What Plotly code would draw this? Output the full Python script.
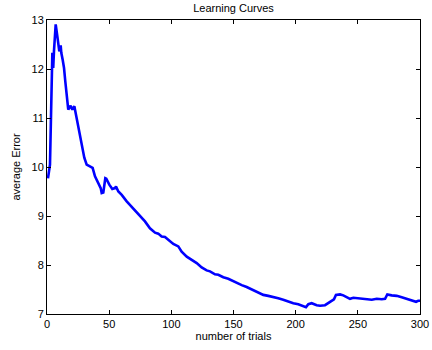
import plotly.graph_objects as go

trials = [0.8, 2.4, 4.3, 5.0, 5.6, 7.0, 8.3, 9.1, 9.9, 11.0,
          11.5, 12.6, 13.7, 14.7, 17.1, 19.0, 20.4, 22.0, 22.8, 24.4,
          26.0, 27.9, 30.0, 31.9, 34.6, 36.7, 38.6, 41.3, 43.2, 44.0,
          45.3, 46.9, 47.7, 50.1, 52.5, 54.7, 55.5, 57.4, 60.1, 64.1,
          68.1, 70.8, 74.8, 78.8, 82.8, 86.9, 89.5, 92.2, 94.9, 97.6,
          101.6, 105.6, 108.3, 112.4, 116.4, 120.4, 124.4, 128.4, 131.1, 135.1,
          137.8, 141.8, 145.8, 152.6, 156.6, 160.6, 165.9, 170, 174, 178,
          182, 186, 190, 194.1, 198.1, 202.1, 206.1, 208.3, 210.2, 212.9,
          216.9, 219.6, 223.6, 226.3, 229, 230.8, 232.4, 235.7, 238.3, 241,
          243.7, 246.4, 250.4, 254.4, 258.4, 261.2, 265.2, 269.2, 271.9, 273.7,
          277.2, 281.3, 285.3, 289.3, 293.3, 296.8, 298.6, 300]

avg_error = [9.77, 10.05, 12.33, 12.02, 12.36, 12.91, 12.67, 12.5, 12.36, 12.48,
             12.33, 12.19, 12.02, 11.75, 11.17, 11.25, 11.17, 11.24, 11.14, 10.90,
             10.69, 10.45, 10.19, 10.05, 10.01, 9.98, 9.81, 9.67, 9.57, 9.47,
             9.48, 9.77, 9.76, 9.64, 9.55, 9.57, 9.60, 9.50, 9.43, 9.30,
             9.19, 9.13, 9.02, 8.89, 8.75, 8.66, 8.64, 8.58, 8.57, 8.51,
             8.43, 8.38, 8.27, 8.17, 8.10, 8.04, 7.95, 7.89, 7.87, 7.81,
             7.80, 7.75, 7.72, 7.63, 7.59, 7.55, 7.49, 7.44, 7.39, 7.37,
             7.35, 7.32, 7.29, 7.25, 7.22, 7.20, 7.16, 7.14, 7.20, 7.22,
             7.18, 7.17, 7.18, 7.22, 7.27, 7.30, 7.39, 7.40, 7.38, 7.34,
             7.31, 7.33, 7.32, 7.31, 7.31, 7.29, 7.31, 7.30, 7.31, 7.40,
             7.38, 7.37, 7.34, 7.31, 7.29, 7.25, 7.27, 7.27]

x_ticks = [0, 50, 100, 150, 200, 250, 300]
y_ticks = [7, 8, 9, 10, 11, 12, 13]

FONT = "Liberation Sans, Arial, Helvetica, sans-serif"

fig = go.Figure()
fig.add_trace(go.Scatter(x=trials, y=avg_error, mode="lines",
                         line=dict(color="#0000FF", width=2.6),
                         showlegend=False))

axis_common = dict(showline=True, linecolor="black", linewidth=1,
                   mirror="ticks", ticks="inside", ticklen=4, tickwidth=1,
                   tickcolor="black", showgrid=False, zeroline=False,
                   automargin=False,
                   tickfont=dict(family=FONT, size=11, color="black"))

fig.update_layout(
    width=432, height=350,
    margin=dict(l=47, r=12, t=20, b=36, autoexpand=False),
    paper_bgcolor="white", plot_bgcolor="white",
    title=dict(text="Learning Curves", x=(47 + 420) / 2 / 432, xanchor="center",
               y=1 - 8 / 350, yanchor="middle", yref="container",
               font=dict(family=FONT, size=11, color="black")),
    xaxis=dict(range=[0, 300], tickvals=x_ticks,
               title=dict(text="number of trials", standoff=3,
                          font=dict(family=FONT, size=11, color="black")),
               **axis_common),
    yaxis=dict(range=[7, 13], tickvals=y_ticks,
               title=dict(text="average Error", standoff=8,
                          font=dict(family=FONT, size=11, color="black")),
               **axis_common),
)

fig.write_html("out.html")
